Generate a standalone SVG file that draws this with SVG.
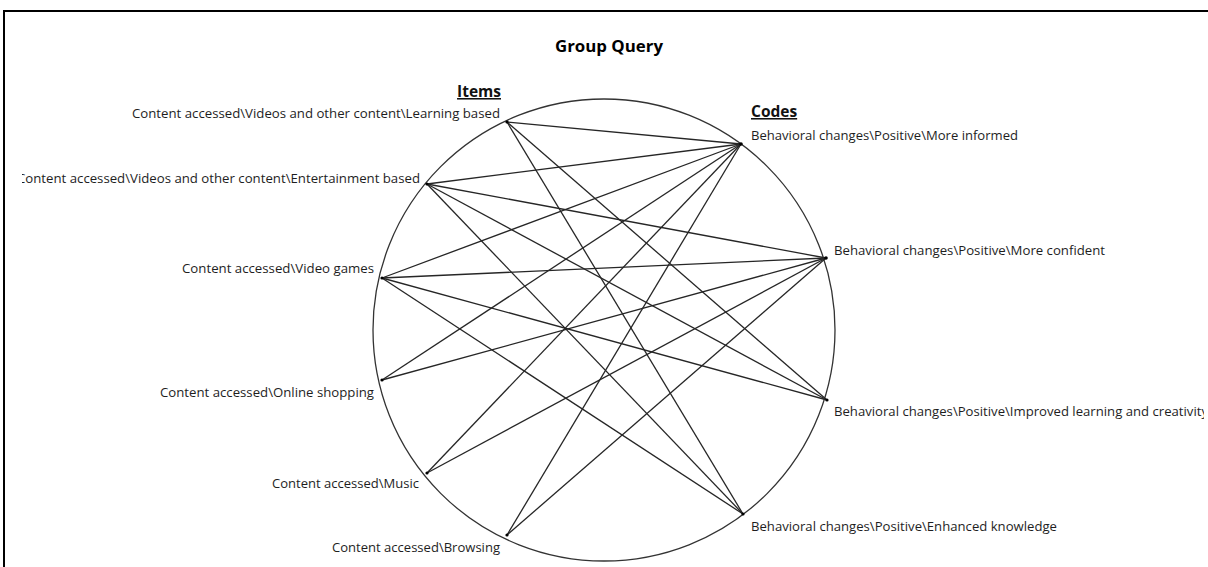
<svg xmlns="http://www.w3.org/2000/svg" width="1208" height="567" viewBox="0 0 1208 567">
  <defs>
    <style>
      .lbl { font-family: "Open Sans", "Noto Sans", "Liberation Sans", sans-serif; font-size: 13.5px; fill: #1e1e1e; }
      .hdr { font-family: "Open Sans", "Noto Sans", "Liberation Sans", sans-serif; font-size: 15.5px; font-weight: bold; fill: #111; text-decoration: underline; }
      .title { font-family: "Open Sans", "Noto Sans", "Liberation Sans", sans-serif; font-size: 15.5px; font-weight: bold; fill: #000; }
      .edge { stroke: #262626; stroke-width: 1.3; fill: none; }
      .dot { fill: #000; }
    </style>
    <clipPath id="plotArea">
      <rect x="22" y="11" width="1182" height="556"/>
    </clipPath>
  </defs>

  <rect width="1208" height="567" fill="#ffffff"/>
  <!-- chart frame -->
  <path d="M4,567 V11 H1208" fill="none" stroke="#000" stroke-width="2"/>

  <text class="title" x="609" y="52" text-anchor="middle" textLength="108" lengthAdjust="spacingAndGlyphs">Group Query</text>

  <!-- ring -->
  <circle cx="604" cy="330" r="231" fill="none" stroke="#333" stroke-width="1.3"/>

  <g clip-path="url(#plotArea)">
    <text class="hdr" x="501" y="97" text-anchor="end">Items</text>
    <text class="hdr" x="751" y="117">Codes</text>

    <!-- connectors: item -> code -->
    <g id="connectors">
      <line class="edge" x1="507" y1="122" x2="741" y2="144"/>
      <line class="edge" x1="507" y1="122" x2="827" y2="400"/>
      <line class="edge" x1="507" y1="122" x2="743" y2="514"/>

      <line class="edge" x1="427" y1="184" x2="741" y2="144"/>
      <line class="edge" x1="427" y1="184" x2="826" y2="258"/>
      <line class="edge" x1="427" y1="184" x2="827" y2="400"/>
      <line class="edge" x1="427" y1="184" x2="743" y2="514"/>

      <line class="edge" x1="382" y1="278" x2="741" y2="144"/>
      <line class="edge" x1="382" y1="278" x2="826" y2="258"/>
      <line class="edge" x1="382" y1="278" x2="827" y2="400"/>
      <line class="edge" x1="382" y1="278" x2="743" y2="514"/>

      <line class="edge" x1="382" y1="380" x2="741" y2="144"/>
      <line class="edge" x1="382" y1="380" x2="826" y2="258"/>

      <line class="edge" x1="427" y1="473" x2="741" y2="144"/>
      <line class="edge" x1="427" y1="473" x2="826" y2="258"/>

      <line class="edge" x1="507" y1="535" x2="741" y2="144"/>
      <line class="edge" x1="507" y1="535" x2="826" y2="258"/>
    </g>

    <!-- items -->
    <g id="item-learning">
      <circle class="dot" cx="507" cy="122" r="1.6"/>
      <text class="lbl" x="500" y="117.5" text-anchor="end" textLength="368" lengthAdjust="spacingAndGlyphs">Content accessed\Videos and other content\Learning based</text>
    </g>
    <g id="item-entertainment">
      <circle class="dot" cx="427" cy="184" r="1.6"/>
      <text class="lbl" x="420" y="182.5" text-anchor="end" textLength="403" lengthAdjust="spacingAndGlyphs">Content accessed\Videos and other content\Entertainment based</text>
    </g>
    <g id="item-videogames">
      <circle class="dot" cx="382" cy="278" r="1.6"/>
      <text class="lbl" x="374" y="272.5" text-anchor="end" textLength="192" lengthAdjust="spacingAndGlyphs">Content accessed\Video games</text>
    </g>
    <g id="item-shopping">
      <circle class="dot" cx="382" cy="380" r="1.6"/>
      <text class="lbl" x="374" y="396.5" text-anchor="end" textLength="214" lengthAdjust="spacingAndGlyphs">Content accessed\Online shopping</text>
    </g>
    <g id="item-music">
      <circle class="dot" cx="427" cy="473" r="1.6"/>
      <text class="lbl" x="419" y="487.5" text-anchor="end" textLength="147" lengthAdjust="spacingAndGlyphs">Content accessed\Music</text>
    </g>
    <g id="item-browsing">
      <circle class="dot" cx="507" cy="535" r="1.6"/>
      <text class="lbl" x="500" y="551.5" text-anchor="end" textLength="168" lengthAdjust="spacingAndGlyphs">Content accessed\Browsing</text>
    </g>

    <!-- codes -->
    <g id="code-informed">
      <circle class="dot" cx="741" cy="144" r="1.8"/>
      <text class="lbl" x="751" y="139.5" textLength="267" lengthAdjust="spacingAndGlyphs">Behavioral changes\Positive\More informed</text>
    </g>
    <g id="code-confident">
      <circle class="dot" cx="826" cy="258" r="1.8"/>
      <text class="lbl" x="834" y="254.5" textLength="271" lengthAdjust="spacingAndGlyphs">Behavioral changes\Positive\More confident</text>
    </g>
    <g id="code-learning">
      <circle class="dot" cx="827" cy="400" r="1.6"/>
      <text class="lbl" x="834" y="415.5" textLength="374" lengthAdjust="spacingAndGlyphs">Behavioral changes\Positive\Improved learning and creativity</text>
    </g>
    <g id="code-knowledge">
      <circle class="dot" cx="743" cy="514" r="1.6"/>
      <text class="lbl" x="751" y="530.5" textLength="306" lengthAdjust="spacingAndGlyphs">Behavioral changes\Positive\Enhanced knowledge</text>
    </g>
  </g>
</svg>
